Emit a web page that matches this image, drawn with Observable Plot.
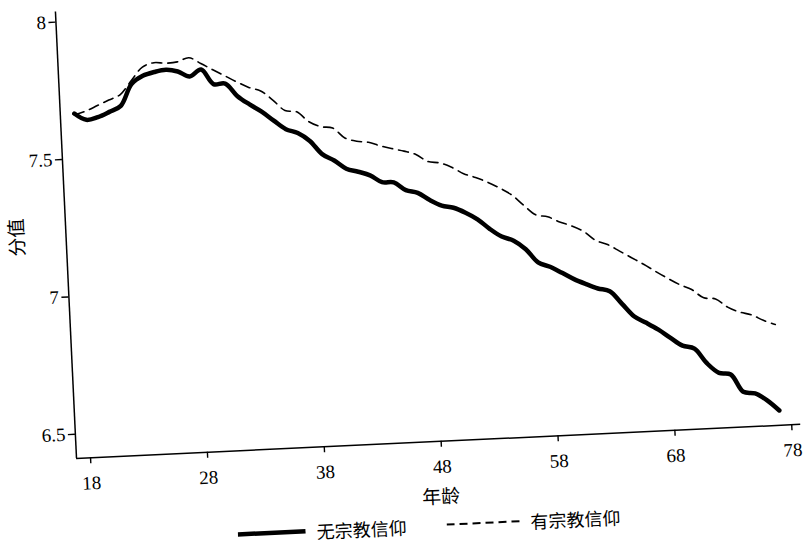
<!DOCTYPE html>
<html>
<head>
<meta charset="utf-8">
<script src="https://cdn.jsdelivr.net/npm/d3@7"></script>
<script src="https://cdn.jsdelivr.net/npm/@observablehq/plot@0.6"></script>
<style>
  html, body { margin: 0; padding: 0; background: #fff; overflow: hidden; width: 804px; height: 547px; }
  #wrap { position: absolute; left: 0; top: 0; width: 804px; height: 600px;
          transform-origin: 76px 458px; transform: rotate(-2.7deg); }
  #legend { position: absolute; left: 234px; top: 533px; display: flex; align-items: center;
            font-family: "Noto Sans CJK SC", sans-serif; font-size: 18px; line-height: 18px;
            color: #000; white-space: nowrap; }
  #legend .item { display: flex; align-items: center; }
  #legend span { line-height: 18px; }
  #legend svg { display: block; }
</style>
</head>
<body>
<div id="wrap">
  <div id="chart"></div>
  <div id="legend"></div>
</div>
<script>
// ---- data ----
const ages = [18,19,20,21,22,23,24,25,26,27,28,29,30,31,32,33,34,35,36,37,38,39,40,41,42,43,44,45,46,47,
              48,49,50,51,52,53,54,55,56,57,58,59,60,61,62,63,64,65,66,67,68,69,70,71,72,73,74,75,76,77];
const noFaith = [7.665,7.640,7.648,7.665,7.685,7.762,7.790,7.802,7.808,7.800,7.780,7.803,7.748,7.748,7.700,
                 7.668,7.640,7.605,7.572,7.556,7.525,7.475,7.450,7.418,7.405,7.390,7.363,7.360,7.330,7.318,
                 7.290,7.268,7.258,7.238,7.212,7.175,7.145,7.128,7.095,7.045,7.027,7.003,6.978,6.958,6.940,
                 6.928,6.880,6.832,6.807,6.780,6.748,6.718,6.705,6.650,6.613,6.605,6.540,6.532,6.505,6.466];
const withFaith = [7.660,7.672,7.690,7.708,7.726,7.775,7.822,7.836,7.832,7.835,7.848,7.825,7.800,7.776,7.752,
                   7.730,7.715,7.680,7.640,7.633,7.595,7.575,7.568,7.530,7.516,7.510,7.495,7.483,7.472,7.458,
                   7.430,7.423,7.405,7.380,7.364,7.345,7.322,7.295,7.255,7.218,7.209,7.188,7.172,7.150,7.115,
                   7.098,7.072,7.046,7.020,6.992,6.965,6.940,6.920,6.888,6.882,6.850,6.830,6.818,6.796,6.779];
const seriesNames = ["无宗教信仰", "有宗教信仰"];
const xTicks = [18, 28, 38, 48, 58, 68, 78];
const yTicks = [6.5, 7, 7.5, 8];
const xTitle = "年龄";
const yTitle = "分值";
const xDomain = [16.8, 78.77];
const yDomain = [6.412, 8.037];

const solidData = ages.map((a, i) => ({age: a, value: noFaith[i]}));
const dashData = ages.map((a, i) => ({age: a, value: withFaith[i]}));

const H = 525;
const chart = Plot.plot({
  width: 804,
  height: H,
  marginLeft: 76,
  marginRight: 3,
  marginTop: 11,
  marginBottom: H - 458,
  style: {fontFamily: "'Liberation Serif', 'Noto Sans CJK SC', serif", fontSize: "19px", color: "#000", background: "#fff", overflow: "visible"},
  x: {domain: xDomain},
  y: {domain: yDomain},
  marks: [
    Plot.axisY({ticks: yTicks, tickFormat: d => String(d), tickSize: 7, tickPadding: 3, strokeWidth: 1.4,
                label: yTitle, labelAnchor: "center", labelOffset: 56, labelArrow: "none",
                fontSize: 19}),
    Plot.axisX({ticks: xTicks, tickFormat: d => String(d), tickSize: 6, tickPadding: 12, strokeWidth: 1.4,
                label: xTitle, labelAnchor: "center", labelOffset: 62, labelArrow: "none",
                fontSize: 19}),
    Plot.ruleX([xDomain[0]], {stroke: "#000", strokeWidth: 1.5}),
    Plot.ruleY([yDomain[0]], {stroke: "#000", strokeWidth: 1.5}),
    Plot.lineY(dashData, {x: "age", y: "value", stroke: "#000", strokeWidth: 1.6,
                          strokeDasharray: "10,6", curve: "catmull-rom"}),
    Plot.lineY(solidData, {x: "age", y: "value", stroke: "#000", strokeWidth: 4.5,
                           curve: "catmull-rom", strokeLinecap: "round", strokeLinejoin: "round"})
  ]
});
document.getElementById("chart").appendChild(chart);

// legend (below the SVG)
const legend = d3.select("#legend");
const s1 = legend.append("div").attr("class", "item");
const sv1 = s1.append("svg").attr("width", 68).attr("height", 10);
sv1.append("line").attr("x1", 0).attr("x2", 68).attr("y1", 5).attr("y2", 5)
   .attr("stroke", "#000").attr("stroke-width", 4.5);
s1.append("span").style("margin-left", "11px").text(seriesNames[0]);
const s2 = legend.append("div").attr("class", "item").style("margin-left", "40px");
const sv2 = s2.append("svg").attr("width", 74).attr("height", 10);
sv2.append("line").attr("x1", 0).attr("x2", 74).attr("y1", 5).attr("y2", 5)
   .attr("stroke", "#000").attr("stroke-width", 2).attr("stroke-dasharray", "8,5");
s2.append("span").style("margin-left", "10px").text(seriesNames[1]);
</script>
</body>
</html>
